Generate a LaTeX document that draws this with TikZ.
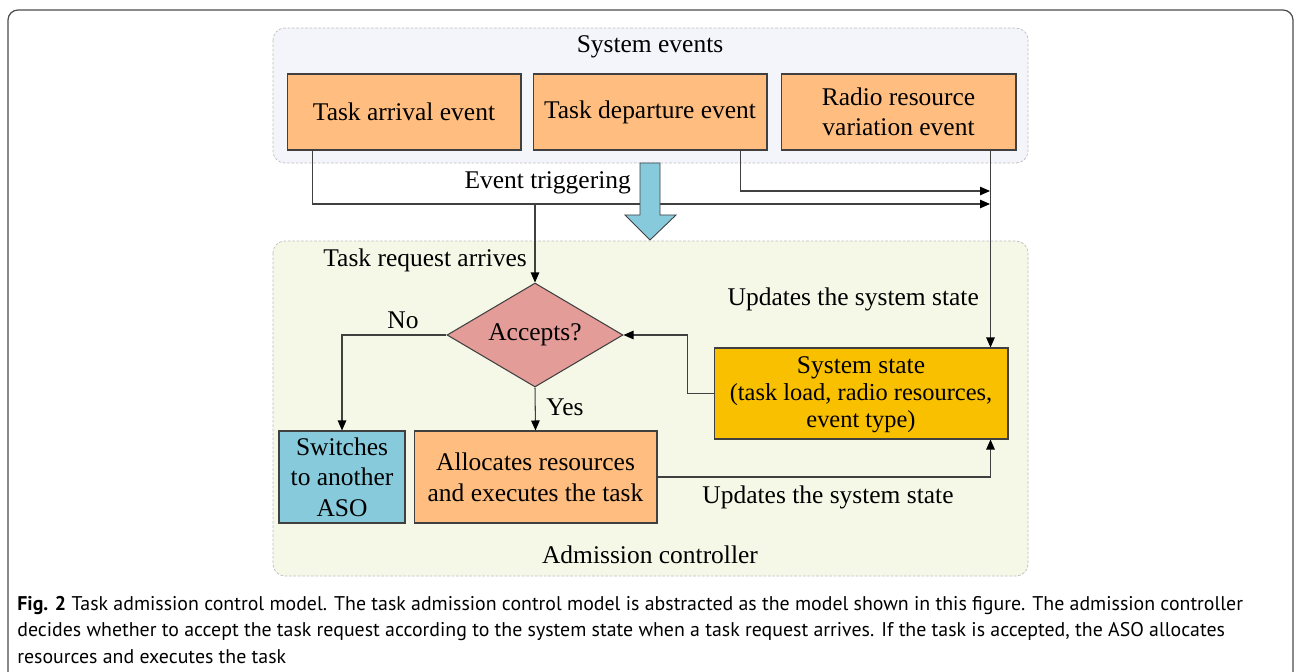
\documentclass[tikz,border=0pt]{standalone}
\usepackage{fontspec}
\setmainfont{Liberation Serif}
\newfontfamily\capfont{PT Sans}
\usetikzlibrary{shapes.geometric,arrows.meta}
\definecolor{evorange}{HTML}{FFBE80}
\definecolor{swblue}{HTML}{86CADB}
\definecolor{accpink}{HTML}{E49C98}
\definecolor{stategold}{HTML}{F9C000}
\definecolor{sysfill}{HTML}{F4F5FA}
\definecolor{admfill}{HTML}{F5F8E7}
\definecolor{linegray}{HTML}{404040}

\begin{document}
\begin{tikzpicture}[x=0.02cm,y=-0.02cm,
        font=\fontsize{14.5}{17.2}\selectfont,
        grp/.style={draw=gray!50,dash pattern=on 1.5pt off 1pt,line width=0.4pt,rounded corners=0.24cm},
        box/.style={draw=linegray,line width=0.6pt,align=center,inner sep=0pt},
        evbox/.style={box,fill=evorange,minimum width=4.68cm,minimum height=1.52cm},
        conn/.style={draw=linegray,line width=0.6pt},
        arr/.style={conn,-{Triangle[length=2mm,width=1.7mm,color=black]}}]
        \useasboundingbox (0,0) rectangle (1294,672);
        \fill[white] (0,0) rectangle (1294,672);
        \draw[black!70,line width=0.7pt,rounded corners=0.2cm] (8,700) -- (8,10) -- (1293,10) -- (1293,700);

        \filldraw[grp,fill=sysfill] (273,28) rectangle (1028,163);
        \filldraw[grp,fill=admfill] (273,241) rectangle (1028,576);
        \node (sysev) at (650,47) {System events};
        \node (admctl) at (650,555) {Admission controller};

        \node[evbox] (arrival) at (404,112) {Task arrival event};
        \node[evbox] (departure) at (650,112) {Task departure event};
        \node[evbox,minimum width=4.7cm] (radio) at (898.5,112) {Radio resource\\variation event};

        \node[diamond,aspect=1.7,box,fill=accpink,minimum width=3.52cm,minimum height=2.08cm] (accept) at (535,335) {Accepts?};
        \node[box,fill=swblue,minimum width=2.52cm,minimum height=1.84cm,font=\fontsize{14.5}{17.3}\selectfont] (switch) at (342,477) {Switches\\to another\\ASO};
        \node[box,fill=evorange,minimum width=4.86cm,minimum height=1.84cm,font=\fontsize{14.5}{17.6}\selectfont] (alloc) at (535.5,477) {Allocates resources\\and executes the task};
        \node[box,fill=stategold,minimum width=5.88cm,minimum height=1.82cm,text depth=2pt] (state) at (861,393.5)
            {System state\\[-1.5pt]{\fontsize{13.9}{15.3}\selectfont (task load, radio resources,}\\[-2pt]{\fontsize{13.9}{15.3}\selectfont event type)}};

        \coordinate (hubA) at (990,204);
        \coordinate (hubB) at (990,191);
        \draw[arr] ([xshift=0.52cm]arrival.south west) |- (hubA);
        \draw[arr] ([xshift=-0.54cm]departure.south east) |- (hubB);
        \draw[arr] ([xshift=-0.52cm]radio.south east) coordinate (rtop) -- (rtop |- state.north);
        \draw[arr] (hubA -| accept.north) -- (accept.north);
        \draw[arr] (accept.west) -| (switch.north);
        \draw[arr] (accept.south) -- (alloc.north);
        \draw[arr] (alloc.east) -| (rtop |- state.south);
        \draw[arr] (state.west) -- ++(-26,0) |- (accept.east);

        \filldraw[fill=swblue,draw=linegray,line width=0.5pt] (640,163) -- (660,163) -- (660,215) -- (676,215)
            -- (650,240) -- (625,215) -- (640,215) -- cycle;

        \node[anchor=east] (trig) at (637,183) {Event triggering};
        \node[anchor=east] (reqlbl) at (533,260) {Task request arrives};
        \node (nolbl) at (403,320) {No};
        \node (yeslbl) at (565,407) {Yes};
        \node[anchor=east] (updA) at (985,299) {Updates the system state};
        \node (updB) at (828,497) {Updates the system state};

        \node[anchor=north west,align=left,inner sep=0pt,font=\capfont\fontsize{11.3}{15}\selectfont] (cap) at (17,596)
            {\textbf{Fig. 2} Task admission control model. The task admission control model is abstracted as the model shown in this figure. The admission controller\\
            decides whether to accept the task request according to the system state when a task request arrives. If the task is accepted, the ASO allocates\\
            resources and executes the task};
    \end{tikzpicture}
\end{document}
